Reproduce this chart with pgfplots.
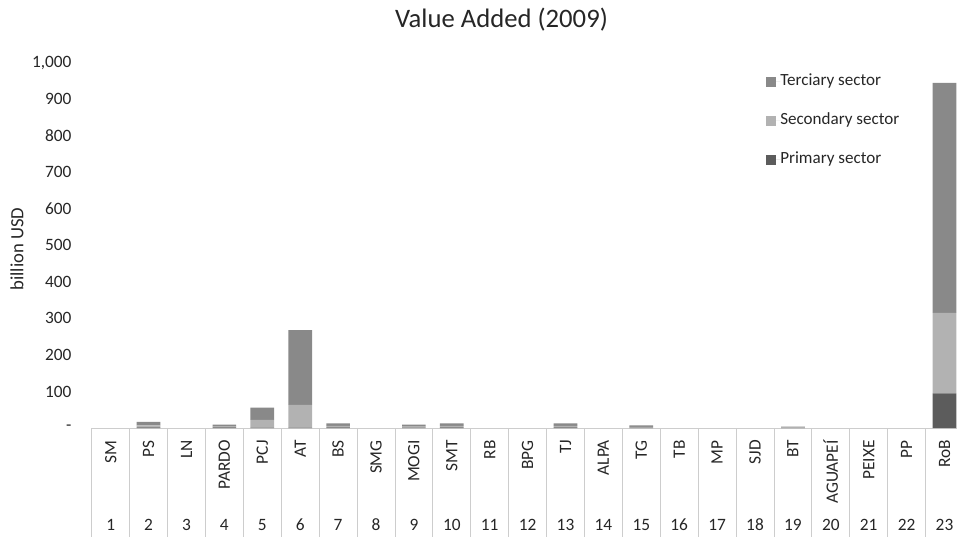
\documentclass[border=0pt]{standalone}
\usepackage{fontspec}
\setmainfont{Carlito}
\usepackage{graphicx}
\usepackage{pgfplots}
\usepackage{pgfplotstable}
\pgfplotsset{compat=1.18}
\definecolor{cPrim}{RGB}{92,92,92}
\definecolor{cSec}{RGB}{178,178,178}
\definecolor{cTer}{RGB}{137,137,137}
\definecolor{cGrid}{RGB}{205,205,205}
\pgfplotstableread{
x  p    s    t
1  0    0    0
2  2    5    10
3  0    0    0
4  1.5  2.5  5
5  1    21   34
6  1    62   205
7  1.5  4    7.5
8  0    0    0
9  1    3    5
10 1.5  4    7.5
11 0    0    0
12 0    0    0
13 1.5  4    7.5
14 0    0    0
15 1    2    4
16 0    0    0
17 0    0    0
18 0    0    0
19 0.5  1    2
20 0    0    0
21 0    0    0
22 0    0    0
23 95   220  630
}\data
\newcommand{\rl}[1]{\rotatebox{90}{#1}}
\begin{document}
\begin{tikzpicture}[x=1pt,y=1pt]
\useasboundingbox (0,0) rectangle (717.75,402);
\node[anchor=base, inner sep=0pt, font=\fontsize{20}{24}\selectfont, text=black!85] at (376.1,381) {Value Added (2009)};
\begin{axis}[
  at={(68.8pt,81pt)}, anchor=south west,
  scale only axis, width=653.8pt, height=274pt,
  xmin=0.5, xmax=23.5, ymin=0, ymax=1000,
  axis x line=bottom, axis y line=left, axis line style={-},
  x axis line style={draw=cGrid, line width=0.6pt},
  y axis line style={draw=none},
  ybar stacked, bar width=0.625,
  xtick={1,...,23},
  xticklabels={\rl{SM},\rl{PS},\rl{LN},\rl{PARDO},\rl{PCJ},\rl{AT},\rl{BS},\rl{SMG},\rl{MOGI},\rl{SMT},\rl{RB},\rl{BPG},\rl{TJ},\rl{ALPA},\rl{TG},\rl{TB},\rl{MP},\rl{SJD},\rl{BT},\rl{AGUAPEÍ},\rl{PEIXE},\rl{PP},\rl{RoB}},
  xticklabel style={anchor=north, inner sep=0pt, yshift=-9pt, font=\fontsize{13}{15}\selectfont, text=black!85},
  extra x ticks={1,...,23},
  extra x tick labels={1,2,3,4,5,6,7,8,9,10,11,12,13,14,15,16,17,18,19,20,21,22,23},
  extra x tick style={every x tick label/.style={anchor=base, inner sep=0pt, yshift=-77pt, font=\fontsize{13}{15}\selectfont, text=black!85}},
  minor xtick={0.5,1.5,...,23.5},
  major tick length=0pt, minor tick length=95pt, tick align=outside,
  minor tick style={draw=cGrid, line width=0.6pt},
  ytick={0,100,...,1000},
  yticklabels={-,100,200,300,400,500,600,700,800,900,{1,000}},
  yticklabel style={anchor=east, inner sep=0pt, xshift=-15pt, font=\fontsize{13}{15}\selectfont, text=black!85},
  ytick style={draw=none},
  ylabel={billion USD},
  every axis y label/.style={at={(axis description cs:-0.0857,0.49)}, rotate=90, anchor=center, font=\fontsize{14}{16}\selectfont, text=black!85},
  reverse legend,
  legend style={at={(axis description cs:0.7735,0.97)}, anchor=north west, draw=none, fill=none, inner sep=0pt,
    row sep=17.25pt, font=\fontsize{12.8}{14}\selectfont, text=black!85,
    nodes={inner sep=0pt, text height=9pt, text depth=3pt, anchor=west}},
  legend image code/.code={\path (0pt,0pt) -- (10.5pt,0pt); \fill[#1] (0pt,-3.75pt) rectangle (7.5pt,3.75pt);},
]
\addplot[fill=cPrim, draw=none] table[x=x, y=p] {\data};
\addlegendentry{Primary sector}
\addplot[fill=cSec, draw=none] table[x=x, y=s] {\data};
\addlegendentry{Secondary sector}
\addplot[fill=cTer, draw=none] table[x=x, y=t] {\data};
\addlegendentry{Terciary sector}
\end{axis}
\end{tikzpicture}
\end{document}
